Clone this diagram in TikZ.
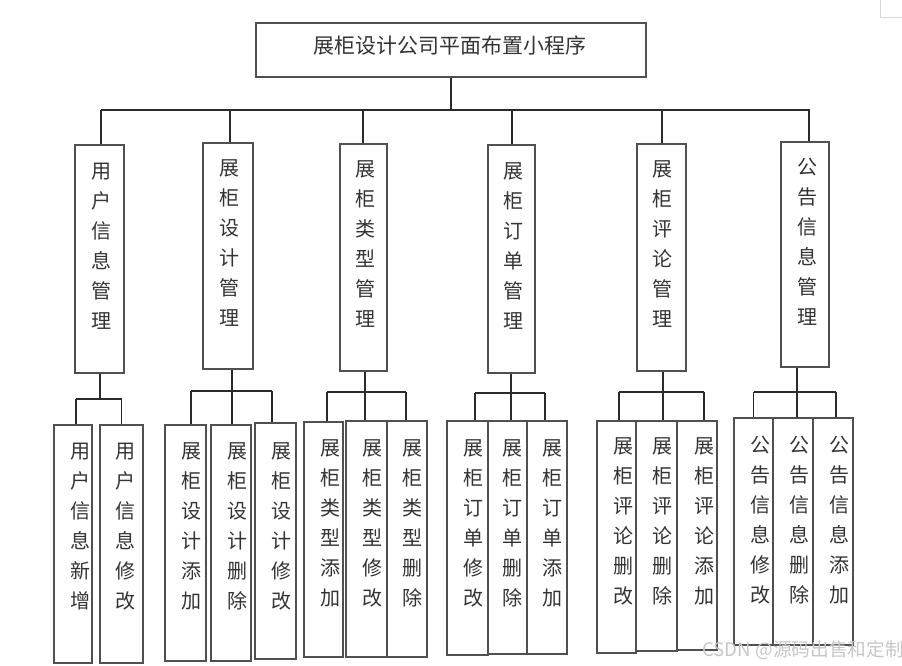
\documentclass[tikz,border=0pt]{standalone}
\usepackage{fontspec}
\newfontfamily\cjk{Noto Sans CJK SC}
\usetikzlibrary{fit,calc}
\definecolor{boxc}{HTML}{505050}
\definecolor{linec}{HTML}{2A2A2A}
\definecolor{txtc}{HTML}{333333}
\tikzset{
  box/.style={draw=boxc, line width=1.1pt, inner sep=0pt},
  link/.style={draw=linec, line width=0.9pt},
  vt/.style={font=\cjk\fontsize{15}{22.5}\selectfont, align=center, inner sep=0pt, anchor=north, text=txtc, yshift=-2pt},
  ttl/.style={font=\cjk\fontsize{15.7}{18}\selectfont, inner sep=0pt, text=txtc},
}
\newcommand\mkdrop[3]{\coordinate (#1-a) at ($(#1.north)+(#2,0)$); \draw[link] (#3 -| #1-a) -- (#1-a);}
\newcommand\mkstem[3]{\coordinate (#1-b) at ($(#1.south)+(#2,0)$); \draw[link] (#1-b) -- (#3 -| #1-b);}
\begin{document}
\begin{tikzpicture}[x=0.75pt,y=-0.75pt]
\useasboundingbox (0,0) rectangle (902,665);
% root
\node[box, fit={(256,23) (646,77)}] (root) {};
\node[ttl] (roott) at (450,46) {展柜设计公司平面布置小程序};
% level 1
\node[box, fit={(75,145) (124,373)}] (u) {};
\node[box, fit={(203,143) (253,369)}] (d) {};
\node[box, fit={(340,144) (387,371)}] (l) {};
\node[box, fit={(488,145) (535,373)}] (o) {};
\node[box, fit={(637,144) (686,371)}] (p) {};
\node[box, fit={(781,142) (829,367)}] (g) {};
\node[vt] (ut) at (101,160) {用\\户\\信\\息\\管\\理};
\node[vt] (dt) at (229,157) {展\\柜\\设\\计\\管\\理};
\node[vt] (lt) at (365,158) {展\\柜\\类\\型\\管\\理};
\node[vt] (ot) at (513,160) {展\\柜\\订\\单\\管\\理};
\node[vt] (pt) at (662,158) {展\\柜\\评\\论\\管\\理};
\node[vt] (gt) at (807,155) {公\\告\\信\\息\\管\\理};
% bus
\coordinate (bus) at (0,110);
\draw[link] (root.south) -- (bus -| root.south);
\draw[link] (101,110) coordinate (busL) -- (810,110) coordinate (busR);
\coordinate (u-a) at ($(u.north)+(1.5,0)$); \draw[link] (bus -| u-a) -- (u-a);
\coordinate (d-a) at ($(d.north)+(2,0)$);   \draw[link] (bus -| d-a) -- (d-a);
\coordinate (l-a) at ($(l.north)+(-0.5,0)$);\draw[link] (bus -| l-a) -- (l-a);
\coordinate (o-a) at ($(o.north)+(0.5,0)$); \draw[link] (bus -| o-a) -- (o-a);
\coordinate (p-a) at ($(p.north)+(0.5,0)$); \draw[link] (bus -| p-a) -- (p-a);
\coordinate (g-a) at ($(g.north)+(4,0)$);   \draw[link] (bus -| g-a) -- (g-a);
% level 2 boxes
\node[box, fit={(54,425) (92,663)}]   (u1) {};
\node[box, fit={(100,425) (143,663)}] (u2) {};
\node[box, fit={(165,425) (206,661)}] (d1) {};
\node[box, fit={(211,425) (251,661)}] (d2) {};
\node[box, fit={(255,423) (296,659)}] (d3) {};
\node[box, fit={(304,422) (343,657)}] (l1) {};
\node[box, fit={(346,421) (387,657)}] (l2) {};
\node[box, fit={(387,421) (427,657)}] (l3) {};
\node[box, fit={(447,421) (488,655)}] (o1) {};
\node[box, fit={(488,421) (527,654)}] (o2) {};
\node[box, fit={(527,421) (567,654)}] (o3) {};
\node[box, fit={(597,421) (636,653)}] (p1) {};
\node[box, fit={(636,421) (677,651)}] (p2) {};
\node[box, fit={(677,421) (717,650)}] (p3) {};
\node[box, fit={(734,418) (773,645)}] (g1) {};
\node[box, fit={(773,418) (813,645)}] (g2) {};
\node[box, fit={(813,418) (853,645)}] (g3) {};
% level 2 texts
\node[vt] (u1t) at (80,440)  {用\\户\\信\\息\\新\\增};
\node[vt] (u2t) at (125,440) {用\\户\\信\\息\\修\\改};
\node[vt] (d1t) at (191,440) {展\\柜\\设\\计\\添\\加};
\node[vt] (d2t) at (237,440) {展\\柜\\设\\计\\删\\除};
\node[vt] (d3t) at (281,440) {展\\柜\\设\\计\\修\\改};
\node[vt] (l1t) at (330,437) {展\\柜\\类\\型\\添\\加};
\node[vt] (l2t) at (372,437) {展\\柜\\类\\型\\修\\改};
\node[vt] (l3t) at (412,437) {展\\柜\\类\\型\\删\\除};
\node[vt] (o1t) at (473,437) {展\\柜\\订\\单\\修\\改};
\node[vt] (o2t) at (512,437) {展\\柜\\订\\单\\删\\除};
\node[vt] (o3t) at (552,437) {展\\柜\\订\\单\\添\\加};
\node[vt] (p1t) at (623,435) {展\\柜\\评\\论\\删\\改};
\node[vt] (p2t) at (662,435) {展\\柜\\评\\论\\删\\除};
\node[vt] (p3t) at (704,435) {展\\柜\\评\\论\\添\\加};
\node[vt] (g1t) at (760,433) {公\\告\\信\\息\\修\\改};
\node[vt] (g2t) at (799,433) {公\\告\\信\\息\\删\\除};
\node[vt] (g3t) at (839,433) {公\\告\\信\\息\\添\\加};
% group connectors
\coordinate (c1) at (0,399);
\mkstem{u}{0.5}{c1}
\mkdrop{u1}{3}{c1} \mkdrop{u2}{0}{c1}
\draw[link] (c1 -| u1-a) -- (c1 -| u2-a);
\coordinate (c2) at (0,391);
\mkstem{d}{4}{c2}
\mkdrop{d1}{5.5}{c2} \mkdrop{d2}{1}{c2} \mkdrop{d3}{-3.5}{c2}
\draw[link] (c2 -| d1-a) -- (c2 -| d3-a);
\coordinate (c3) at (0,392);
\mkstem{l}{1.5}{c3}
\mkdrop{l1}{3.5}{c3} \mkdrop{l2}{-1.5}{c3} \mkdrop{l3}{-1}{c3}
\draw[link] (c3 -| l1-a) -- (c3 -| l3-a);
\coordinate (c4) at (0,393);
\mkstem{o}{-0.5}{c4}
\mkdrop{o1}{7.5}{c4} \mkdrop{o2}{3.5}{c4} \mkdrop{o3}{-2}{c4}
\draw[link] (c4 -| o1-a) -- (c4 -| o3-a);
\coordinate (c5) at (0,392);
\mkstem{p}{1.5}{c5}
\mkdrop{p1}{2.5}{c5} \mkdrop{p2}{6.5}{c5} \mkdrop{p3}{7}{c5}
\draw[link] (c5 -| p1-a) -- (c5 -| p3-a);
\coordinate (c6) at (0,392);
\mkstem{g}{-8}{c6}
\mkdrop{g1}{0}{c6} \mkdrop{g2}{4}{c6} \mkdrop{g3}{3}{c6}
\draw[link] (c6 -| g1-a) -- (c6 -| g3-a);
% page corner mark and watermark
\draw[gray!30, line width=0.6pt] (880,0) -- (880,17) -- (902,17);
\node[font=\cjk\fontsize{14}{14}\selectfont, text=gray!45, inner sep=0pt] (wm) at (803,650) {CSDN @源码出售和定制};
\end{tikzpicture}
\end{document}
